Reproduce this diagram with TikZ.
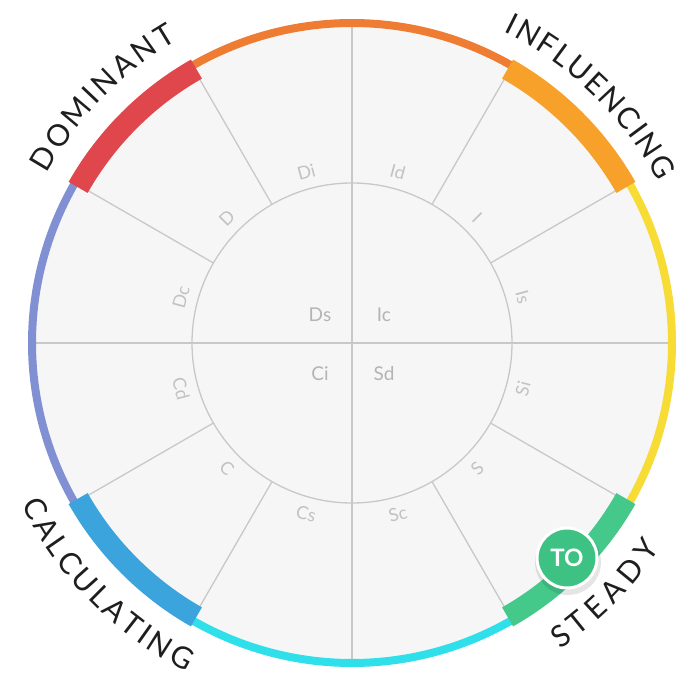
\documentclass[tikz,border=0pt]{standalone}
\usepackage{fontspec}
\setmainfont{Lato}
\usetikzlibrary{decorations.text}
\definecolor{bgfill}{HTML}{F6F6F6}
\definecolor{spokecol}{HTML}{C8C8C8}
\definecolor{lblcol}{HTML}{C2C2C2}
\definecolor{ctrcol}{HTML}{B4B4B4}
\definecolor{txtcol}{HTML}{1E1E1E}
\definecolor{cOrange}{HTML}{EE7D33}
\definecolor{cRed}{HTML}{E0474C}
\definecolor{cAmber}{HTML}{F7A12B}
\definecolor{cYellow}{HTML}{F8DC36}
\definecolor{cGreen}{HTML}{45C98B}
\definecolor{cBadge}{HTML}{3EC284}
\definecolor{cCyan}{HTML}{2FE0EA}
\definecolor{cBlue}{HTML}{3BA4DC}
\definecolor{cPurple}{HTML}{8090D2}
\begin{document}
\begin{tikzpicture}[x=1pt,y=1pt,
  thinring/.style={line width=8pt},
  band/.style={line width=22pt},
  spokeline/.style={draw=spokecol, line width=1.3pt},
  ringlbl/.style={text=lblcol, font=\fontsize{18}{18}\selectfont, inner sep=0pt},
  ctrlbl/.style={text=ctrcol, font=\fontsize{19}{19}\selectfont, inner sep=0pt},
  bigtext/.style={decorate, decoration={text along path, text align={fit to path}, text={|\fontsize{30}{30}\selectfont\color{txtcol}|#1}}}
]
\useasboundingbox (0,0) rectangle (679,678);
\begin{scope}[shift={(352,335)}]
  \coordinate (O) at (0,0);
  \fill[bgfill] (O) circle (320);
  % spokes
  \foreach \a in {30,60,120,150,210,240,300,330}
    \draw[spokeline] (\a:160) -- (\a:316);
  \draw[spokeline] (180:316) -- (0:316);
  \draw[spokeline] (270:316) -- (90:316);
  \draw[spokeline] (O) circle (160);
  % thin ring
  \draw[cOrange,thinring] (60:320) arc[start angle=60,end angle=120,radius=320];
  \draw[cPurple,thinring] (150:320) arc[start angle=150,end angle=210,radius=320];
  \draw[cCyan,thinring] (240:320) arc[start angle=240,end angle=300,radius=320];
  \draw[cYellow,thinring] (-30:320) arc[start angle=-30,end angle=30,radius=320];
  % thick bands
  \draw[cRed,band] (119.6:315) arc[start angle=119.6,end angle=150.4,radius=315];
  \draw[cAmber,band] (29.6:315) arc[start angle=29.6,end angle=60.4,radius=315];
  \draw[cBlue,band] (209.6:315) arc[start angle=209.6,end angle=240.4,radius=315];
  \draw[cGreen,band] (299.6:315) arc[start angle=299.6,end angle=330.4,radius=315];
  % ring labels
  \foreach \a/\t in {105/Di,75/Id,135/D,45/I,165/Dc,15/Is,195/Cd,345/Si,225/C,315/S,255/Cs,285/Sc}{
    \pgfmathsetmacro\rot{ifthenelse(\a<180,\a-90,\a+90)}
    \node[ringlbl, rotate=\rot] (l\t) at (\a:177) {\t};
  }
  % centre labels
  \node[ctrlbl] (cDs) at (-32,28) {Ds};
  \node[ctrlbl] (cIc) at (32,28) {Ic};
  \node[ctrlbl] (cCi) at (-32,-31) {Ci};
  \node[ctrlbl] (cSd) at (32,-31) {Sd};
  % big curved labels
  \path[bigtext=DOMINANT] (151:349) arc[start angle=151,end angle=120,radius=349];
  \path[bigtext=INFLUENCING] (64:346) arc[start angle=64,end angle=27.8,radius=346];
  \path[bigtext=CALCULATING] (206:368) arc[start angle=206,end angle=243.3,radius=368];
  \path[bigtext=STEADY] (304.2:370) arc[start angle=304.2,end angle=326.3,radius=370];
  % badge
  \fill[black,opacity=0.10] (216,-219) circle (33);
  \node[circle, fill=cBadge, draw=white, line width=3pt, minimum size=60pt, inner sep=0pt,
        text=white, font=\bfseries\fontsize{24}{24}\selectfont] (badge) at (215,-215) {TO};
\end{scope}
\end{tikzpicture}
\end{document}
